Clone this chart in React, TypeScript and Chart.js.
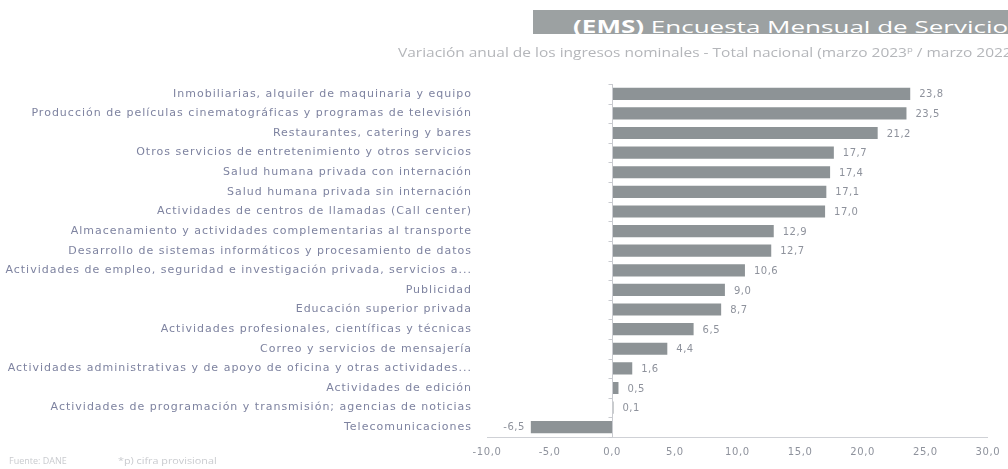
import React, { useEffect, useRef } from "react";
import { Chart, registerables } from "chart.js";

Chart.register(...registerables);

const categories: string[] = [
  "Inmobiliarias, alquiler de maquinaria y equipo",
  "Producción de películas cinematográficas y programas de televisión",
  "Restaurantes, catering y bares",
  "Otros servicios de entretenimiento y otros servicios",
  "Salud humana privada con internación",
  "Salud humana privada sin internación",
  "Actividades de centros de llamadas (Call center)",
  "Almacenamiento y actividades complementarias al transporte",
  "Desarrollo de sistemas informáticos y procesamiento de datos",
  "Actividades de empleo, seguridad e investigación privada, servicios a...",
  "Publicidad",
  "Educación superior privada",
  "Actividades profesionales, científicas y técnicas",
  "Correo y servicios de mensajería",
  "Actividades administrativas y de apoyo de oficina y otras actividades...",
  "Actividades de edición",
  "Actividades de programación y transmisión; agencias de noticias",
  "Telecomunicaciones",
];

const variacion: number[] = [
  23.8, 23.5, 21.2, 17.7, 17.4, 17.1, 17.0, 12.9, 12.7, 10.6, 9.0, 8.7, 6.5, 4.4,
  1.6, 0.5, 0.1, -6.5,
];

const xMin = -10;
const xMax = 30;
const xStep = 5;

const titleBold = "(EMS)";
const titleRest = " Encuesta Mensual de Servicios";
const subtitle = "Variación anual de los ingresos nominales - Total nacional  (marzo 2023";
const subtitleSup = "p";
const subtitleEnd = " / marzo 2022)";
const footerSource = "Fuente: DANE";
const footerNote = "*p) cifra provisional";

const fmt = (v: number) => v.toFixed(1).replace(".", ",");

const HTML_FONT = "'Open Sans', 'Noto Sans', sans-serif";
const CANVAS_FONT = "'DejaVu Sans', sans-serif";

export default function App() {
  const canvasRef = useRef<HTMLCanvasElement | null>(null);

  useEffect(() => {
    document.body.style.margin = "0";
    const canvas = canvasRef.current;
    if (!canvas) return;

    const spacingPlugin = {
      id: "axisLetterSpacing",
      afterUpdate(chart: any) {
        const wrap = (scale: any, spacing: string) => {
          if (!scale || scale.__wrapped) return;
          const orig = scale.drawLabels;
          scale.drawLabels = function (area: any) {
            const ctx = chart.ctx;
            ctx.save();
            ctx.letterSpacing = spacing;
            orig.call(this, area);
            ctx.restore();
          };
          scale.__wrapped = true;
        };
        wrap(chart.scales.y, "1px");
        wrap(chart.scales.x, "0.6px");
      },
    };

    const zeroAxisPlugin = {
      id: "zeroAxis",
      afterDatasetsDraw(chart: any) {
        const { ctx, chartArea, scales } = chart;
        const x0 = Math.round(scales.x.getPixelForValue(0)) + 0.5;
        ctx.save();
        ctx.strokeStyle = "#c9cbd0";
        ctx.lineWidth = 1;
        ctx.beginPath();
        ctx.moveTo(x0, chartArea.top);
        ctx.lineTo(x0, chartArea.bottom);
        const n = categories.length;
        const h = (chartArea.bottom - chartArea.top) / n;
        for (let i = 0; i <= n; i++) {
          const y = Math.round(chartArea.top + i * h) + 0.5;
          ctx.moveTo(x0 - 4, y);
          ctx.lineTo(x0, y);
        }
        ctx.stroke();
        ctx.restore();
      },
    };

    const valueLabelPlugin = {
      id: "valueLabels",
      afterDatasetsDraw(chart: any) {
        const { ctx } = chart;
        const meta = chart.getDatasetMeta(0);
        ctx.save();
        ctx.font = `10px ${CANVAS_FONT}`;
        ctx.letterSpacing = "0.5px";
        ctx.fillStyle = "#8e929c";
        ctx.textBaseline = "middle";
        meta.data.forEach((bar: any, i: number) => {
          const v = variacion[i];
          const txt = fmt(v);
          if (v >= 0) {
            ctx.textAlign = "left";
            ctx.fillText(txt, bar.x + 9, bar.y + 1);
          } else {
            ctx.textAlign = "right";
            ctx.fillText(txt, bar.x - 6, bar.y);
          }
        });
        ctx.restore();
      },
    };

    const chart = new Chart(canvas, {
      type: "bar",
      data: {
        labels: categories,
        datasets: [
          {
            data: variacion,
            backgroundColor: "#8d9396",
            borderWidth: 0,
            barPercentage: 0.62,
            categoryPercentage: 1,
          },
        ],
      },
      options: {
        indexAxis: "y",
        responsive: false,
        animation: false,
        maintainAspectRatio: false,
        layout: { padding: { top: 84, right: 4, bottom: 0, left: 0 } },
        plugins: {
          legend: { display: false },
          tooltip: { enabled: false },
          title: { display: false },
        },
        scales: {
          x: {
            min: xMin,
            max: xMax,
            ticks: {
              stepSize: xStep,
              callback: (v: any) => fmt(Number(v)),
              color: "#8e929c",
              font: { family: CANVAS_FONT, size: 10 },
              padding: 9,
              maxRotation: 0,
            },
            grid: { display: false, drawTicks: false },
            border: { display: true, color: "#cfd1d6", width: 1 },
            afterFit: (scale: any) => {
              scale.height = 32;
            },
          },
          y: {
            ticks: {
              color: "#7e83a0",
              font: { family: CANVAS_FONT, size: 11 },
              padding: 15,
              autoSkip: false,
            },
            grid: { display: false, drawTicks: false },
            border: { display: false },
            afterFit: (scale: any) => {
              scale.width = 487;
            },
          },
        },
      },
      plugins: [spacingPlugin, zeroAxisPlugin, valueLabelPlugin],
    });

    return () => chart.destroy();
  }, []);

  return (
    <div
      style={{
        position: "relative",
        width: 1008,
        height: 469,
        overflow: "hidden",
        background: "#ffffff",
        fontFamily: HTML_FONT,
      }}
    >
      <canvas ref={canvasRef} width={1008} height={469} style={{ position: "absolute", left: 0, top: 0 }} />
      <div
        style={{
          position: "absolute",
          left: 533,
          top: 10,
          width: 480,
          height: 24,
          background: "#9ca1a2",
          overflow: "hidden",
          whiteSpace: "nowrap",
        }}
      >
        <div
          style={{
            position: "absolute",
            left: 40,
            top: 8,
            color: "#ffffff",
            fontSize: 17,
            lineHeight: "17px",
            transform: "scaleX(1.53)",
            transformOrigin: "0 0",
          }}
        >
          <span style={{ fontWeight: 700 }}>{titleBold}</span>
          <span>{titleRest}</span>
        </div>
      </div>
      <div
        style={{
          position: "absolute",
          left: 398,
          top: 40,
          color: "#b4b6ba",
          fontSize: 13,
          lineHeight: "18px",
          whiteSpace: "nowrap",
          transform: "scaleX(1.19)",
          transformOrigin: "0 0",
        }}
      >
        {subtitle}
        <sup style={{ fontSize: 8 }}>{subtitleSup}</sup>
        {subtitleEnd}
      </div>
      <div
        style={{
          position: "absolute",
          left: 9,
          top: 455,
          color: "#c9cbcf",
          fontSize: 9,
          lineHeight: "12px",
          whiteSpace: "pre",
        }}
      >
        {footerSource}
      </div>
      <div
        style={{
          position: "absolute",
          left: 118,
          top: 455,
          color: "#c9cbcf",
          fontSize: 9,
          lineHeight: "12px",
          whiteSpace: "pre",
          transform: "scaleX(1.2)",
          transformOrigin: "0 0",
        }}
      >
        {footerNote}
      </div>
    </div>
  );
}
